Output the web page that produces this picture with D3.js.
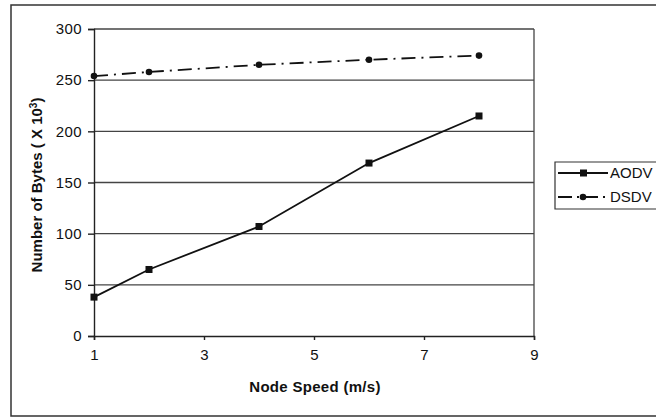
<!DOCTYPE html>
<html>
<head>
<meta charset="utf-8">
<script src="https://cdn.jsdelivr.net/npm/d3@7"></script>
<style>
  body { margin: 0; background: #fff; }
  text { font-family: Arial, "Liberation Sans", sans-serif; fill: #111; }
</style>
</head>
<body>
<svg id="chart" width="656" height="418"></svg>
<script>
// data
var speeds = [1, 2, 4, 6, 8];
var aodv = [38, 65, 107, 169, 215];
var dsdv = [254, 258, 265, 270, 274];
var xTicks = [1, 3, 5, 7, 9];
var yTicks = [0, 50, 100, 150, 200, 250, 300];

var svg = d3.select("#chart");

// outer frame (left, top, bottom only - right is cut off)
svg.append("path")
    .attr("d", "M656,5 H11 V416 H656")
    .attr("fill", "none")
    .attr("stroke", "#333")
    .attr("stroke-width", 1.5);

var xScale = d3.scaleLinear().domain([1, 9]).range([94, 534]);
var yScale = d3.scaleLinear().domain([0, 300]).range([336, 29]);

// gridlines
svg.append("g").selectAll("line")
    .data(yTicks.filter(function(d) { return d > 0; }))
    .enter().append("line")
    .attr("x1", xScale(1)).attr("x2", xScale(9))
    .attr("y1", function(d) { return yScale(d); })
    .attr("y2", function(d) { return yScale(d); })
    .attr("stroke", "#444")
    .attr("stroke-width", 1.3);

// right border of plot area
svg.append("line")
    .attr("x1", xScale(9)).attr("x2", xScale(9))
    .attr("y1", yScale(300)).attr("y2", yScale(0))
    .attr("stroke", "#444").attr("stroke-width", 1.3);

// axes
var yAxis = d3.axisLeft(yScale).tickValues(yTicks).tickSize(6).tickPadding(6);
var xAxis = d3.axisBottom(xScale).tickValues(xTicks).tickSize(4).tickPadding(9);

var gy = svg.append("g").attr("transform", "translate(" + xScale(1) + ",0)").call(yAxis);
var gx = svg.append("g").attr("transform", "translate(0," + yScale(0) + ")").call(xAxis);

[gx, gy].forEach(function(g) {
    g.selectAll("path, line").attr("stroke", "#222").attr("stroke-width", 1.4);
    g.selectAll("text")
        .style("font-size", "15px")
        .style("letter-spacing", "0.4px")
        .attr("fill", "#111");
});

// axis titles
svg.append("text")
    .attr("x", 315).attr("y", 392)
    .attr("text-anchor", "middle")
    .style("font-size", "15px")
    .style("font-weight", "bold")
    .style("letter-spacing", "0.3px")
    .text("Node Speed (m/s)");

var yTitle = svg.append("text")
    .attr("transform", "translate(42,185) rotate(-90)")
    .attr("text-anchor", "middle")
    .style("font-size", "15px")
    .style("font-weight", "bold");
yTitle.append("tspan").text("Number of Bytes ( X 10");
yTitle.append("tspan").attr("dy", -5).style("font-size", "10px").text("3");
yTitle.append("tspan").attr("dy", 5).text(")");

// lines
var line = d3.line()
    .x(function(d) { return xScale(d[0]); })
    .y(function(d) { return yScale(d[1]); });

var aodvPts = speeds.map(function(s, i) { return [s, aodv[i]]; });
var dsdvPts = speeds.map(function(s, i) { return [s, dsdv[i]]; });

svg.append("path")
    .datum(aodvPts)
    .attr("d", line)
    .attr("fill", "none")
    .attr("stroke", "#111")
    .attr("stroke-width", 1.8);

svg.append("path")
    .datum(dsdvPts)
    .attr("d", line)
    .attr("fill", "none")
    .attr("stroke", "#111")
    .attr("stroke-width", 1.8)
    .attr("stroke-dasharray", "14,6,2,6");

svg.append("g").selectAll("rect")
    .data(aodvPts)
    .enter().append("rect")
    .attr("x", function(d) { return xScale(d[0]) - 3.5; })
    .attr("y", function(d) { return yScale(d[1]) - 3.5; })
    .attr("width", 7).attr("height", 7)
    .attr("fill", "#111");

svg.append("g").selectAll("circle")
    .data(dsdvPts)
    .enter().append("circle")
    .attr("cx", function(d) { return xScale(d[0]); })
    .attr("cy", function(d) { return yScale(d[1]); })
    .attr("r", 3.3)
    .attr("fill", "#111");

// legend
var lg = svg.append("g");
lg.append("path")
    .attr("d", "M656,162 H555 V209 H656")
    .attr("fill", "#fff")
    .attr("stroke", "#333")
    .attr("stroke-width", 1.2);

var legendItems = [
    { name: "AODV", y: 173, dash: null, shape: "square" },
    { name: "DSDV", y: 197, dash: "14,5,2,5", shape: "circle" }
];
legendItems.forEach(function(it) {
    lg.append("line")
        .attr("x1", 558).attr("x2", 608)
        .attr("y1", it.y).attr("y2", it.y)
        .attr("stroke", "#111").attr("stroke-width", 1.8)
        .attr("stroke-dasharray", it.dash);
    if (it.shape === "square") {
        lg.append("rect").attr("x", 580).attr("y", it.y - 3.5)
            .attr("width", 7).attr("height", 7).attr("fill", "#111");
    } else {
        lg.append("circle").attr("cx", 583).attr("cy", it.y).attr("r", 3.3).attr("fill", "#111");
    }
    lg.append("text")
        .attr("x", 610).attr("y", it.y + 5)
        .style("font-size", "15px")
        .text(it.name);
});
</script>
</body>
</html>
